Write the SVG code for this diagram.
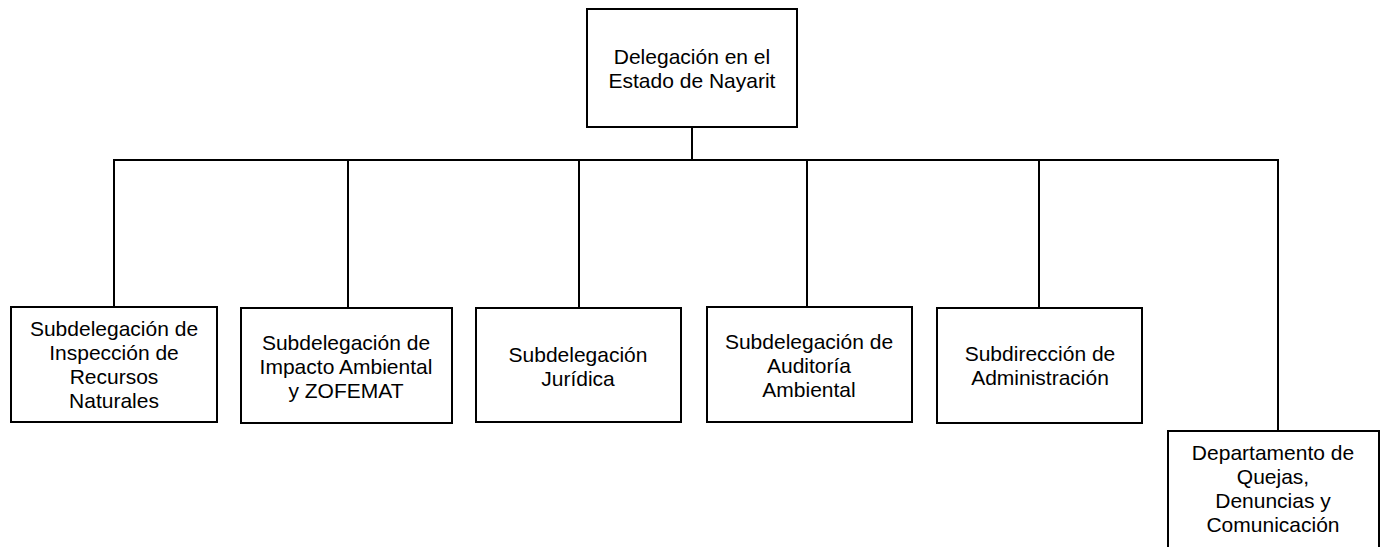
<svg xmlns="http://www.w3.org/2000/svg" width="1388" height="547" viewBox="0 0 1388 547">
<style>
.box{fill:#fff;stroke:#000;stroke-width:2}
.t{font-family:"Liberation Sans",Arial,sans-serif;font-size:21px;fill:#000;text-anchor:middle}
.c{stroke:#000;stroke-width:2;fill:none}
</style>
<rect width="1388" height="547" fill="#fff"/>
<g id="connectors">
<line class="c" x1="692" y1="127" x2="692" y2="160"/>
<line class="c" x1="113" y1="160" x2="1279" y2="160"/>
<line class="c" x1="114" y1="160" x2="114" y2="307"/>
<line class="c" x1="348" y1="160" x2="348" y2="308"/>
<line class="c" x1="579" y1="160" x2="579" y2="308"/>
<line class="c" x1="807" y1="160" x2="807" y2="307"/>
<line class="c" x1="1039" y1="160" x2="1039" y2="308"/>
<line class="c" x1="1278" y1="160" x2="1278" y2="431"/>
</g>
<g id="top">
<rect class="box" x="587" y="9" width="210" height="118"/>
<text class="t" x="692" y="64">Delegación en el</text>
<text class="t" x="692" y="88">Estado de Nayarit</text>
</g>
<g id="n1">
<rect class="box" x="11" y="307" width="206" height="115"/>
<text class="t" x="114" y="336">Subdelegación de</text>
<text class="t" x="114" y="360">Inspección de</text>
<text class="t" x="114" y="384">Recursos</text>
<text class="t" x="114" y="408">Naturales</text>
</g>
<g id="n2">
<rect class="box" x="241" y="308" width="211" height="115"/>
<text class="t" x="346" y="350">Subdelegación de</text>
<text class="t" x="346" y="374">Impacto Ambiental</text>
<text class="t" x="346" y="398">y ZOFEMAT</text>
</g>
<g id="n3">
<rect class="box" x="476" y="308" width="205" height="114"/>
<text class="t" x="578" y="362">Subdelegación</text>
<text class="t" x="578" y="386">Jurídica</text>
</g>
<g id="n4">
<rect class="box" x="707" y="307" width="205" height="115"/>
<text class="t" x="809" y="349">Subdelegación de</text>
<text class="t" x="809" y="373">Auditoría</text>
<text class="t" x="809" y="397">Ambiental</text>
</g>
<g id="n5">
<rect class="box" x="937" y="308" width="205" height="115"/>
<text class="t" x="1040" y="361">Subdirección de</text>
<text class="t" x="1040" y="385">Administración</text>
</g>
<g id="n6">
<rect class="box" x="1168" y="431" width="211" height="118"/>
<text class="t" x="1273" y="460">Departamento de</text>
<text class="t" x="1273" y="484">Quejas,</text>
<text class="t" x="1273" y="508">Denuncias y</text>
<text class="t" x="1273" y="532">Comunicación</text>
</g>
</svg>
